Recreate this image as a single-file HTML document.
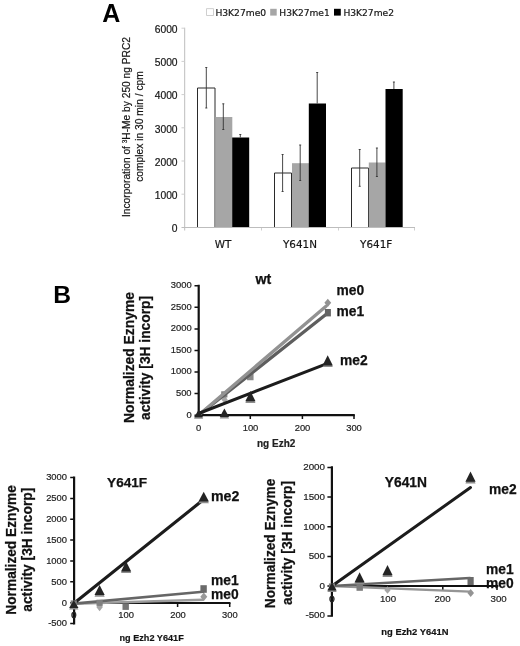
<!DOCTYPE html>
<html lang="en">
<head>
<meta charset="utf-8">
<title>Figure: H3K27 methylation by EZH2 wt, Y641N and Y641F</title>
<style>
html,body{margin:0;padding:0;background:#fff;}
body{width:520px;height:646px;overflow:hidden;}
svg{display:block;filter:blur(0.35px);}
.a{font-family:"Liberation Sans",Arial,Helvetica,sans-serif;}
.v{font-family:"DejaVu Sans","Liberation Sans",Verdana,sans-serif;}
.b{font-weight:bold;}
.k{stroke:#111;stroke-width:0.25;}
.k2{stroke:#222;stroke-width:0.2;}
</style>
</head>
<body>
<svg width="520" height="646" viewBox="0 0 520 646">
<rect width="520" height="646" fill="#fff"/>

<!-- ================= PANEL A ================= -->
<g id="panelA">
<text class="a b" x="102.2" y="22.4" font-size="25" fill="#000">A</text>

<!-- legend -->
<g class="v k2" font-size="9" fill="#111">
<rect x="206.6" y="8.7" width="6.8" height="6.8" fill="#fff" stroke="#c4c4c4" stroke-width="0.8"/>
<text x="215.4" y="15.9" textLength="50.8" lengthAdjust="spacingAndGlyphs">H3K27me0</text>
<rect x="270.2" y="8.8" width="6.5" height="6.8" fill="#a6a6a6" stroke="none"/>
<text x="279.3" y="15.9" textLength="50.4" lengthAdjust="spacingAndGlyphs">H3K27me1</text>
<rect x="334" y="8.8" width="6.8" height="6.8" fill="#000" stroke="none"/>
<text x="343.4" y="15.9" textLength="50.6" lengthAdjust="spacingAndGlyphs">H3K27me2</text>
</g>

<!-- axes -->
<g stroke="#bdbdbd" stroke-width="1" fill="none">
<line x1="184.7" y1="27.7" x2="184.7" y2="230.5"/>
<line x1="181.5" y1="227.5" x2="415" y2="227.5"/>
</g>
<g stroke="#cfcfcf" stroke-width="1" fill="none">
<line x1="181.5" y1="28.2" x2="184.5" y2="28.2"/>
<line x1="181.5" y1="61.4" x2="184.5" y2="61.4"/>
<line x1="181.5" y1="94.6" x2="184.5" y2="94.6"/>
<line x1="181.5" y1="127.8" x2="184.5" y2="127.8"/>
<line x1="181.5" y1="161.0" x2="184.5" y2="161.0"/>
<line x1="181.5" y1="194.2" x2="184.5" y2="194.2"/>
<line x1="261.5" y1="227.5" x2="261.5" y2="230.5"/>
<line x1="338.5" y1="227.5" x2="338.5" y2="230.5"/>
<line x1="414.5" y1="227.5" x2="414.5" y2="230.5"/>
</g>

<!-- y tick labels -->
<g class="a k2" font-size="10.3" fill="#111" text-anchor="end">
<text x="177.6" y="32.9">6000</text>
<text x="177.6" y="66.1">5000</text>
<text x="177.6" y="99.3">4000</text>
<text x="177.6" y="132.5">3000</text>
<text x="177.6" y="165.8">2000</text>
<text x="177.6" y="199.0">1000</text>
<text x="177.6" y="232.2">0</text>
</g>

<!-- y axis title -->
<g class="a k2" font-size="10.3" fill="#111" text-anchor="middle">
<text transform="translate(130.1,127) rotate(-90)" textLength="180" lengthAdjust="spacingAndGlyphs">Incorporation of <tspan font-size="6.5" dy="-3.5">3</tspan><tspan dy="3.5">H-Me by 250 ng PRC2</tspan></text>
<text transform="translate(143,126.5) rotate(-90)" textLength="110.5" lengthAdjust="spacingAndGlyphs">complex in 30 min / cpm</text>
</g>

<!-- bars -->
<g fill="#fff" stroke="none">
<rect x="197.5" y="88" width="17.5" height="139.5"/>
<rect x="274.5" y="173" width="17" height="54.5"/>
<rect x="351.5" y="168" width="17" height="59.5"/>
</g>
<g stroke="#2a2a2a" stroke-width="1" fill="none">
<path d="M197.5 227.5V88H215V227.5"/>
<path d="M274.5 227.5V173H291.5V227.5"/>
<path d="M351.5 227.5V168H368.5V227.5"/>
</g>
<g fill="#a6a6a6">
<rect x="215.5" y="117" width="16.8" height="110.5"/>
<rect x="292" y="163.2" width="17" height="64.3"/>
<rect x="368.8" y="162.5" width="16.8" height="65"/>
</g>
<g fill="#000">
<rect x="232.2" y="137.5" width="17" height="90"/>
<rect x="308.8" y="103.5" width="17.2" height="124"/>
<rect x="385.5" y="89" width="17.2" height="138.5"/>
</g>
<line x1="184.5" y1="227.5" x2="415" y2="227.5" stroke="#bdbdbd" stroke-width="1"/>

<!-- error bars -->
<g stroke="#333" stroke-width="0.9" fill="none">
<path d="M206.3 67.5V108M205.3 67.5h2M205.3 108h2"/>
<path d="M223.3 103.8V129.5M222.3 103.8h2M222.3 129.5h2"/>
<path d="M240.3 134.5V137.5M239.3 134.5h2"/>
<path d="M282.6 154.5V191.5M281.6 154.5h2M281.6 191.5h2"/>
<path d="M300.2 145V180.5M299.2 145h2M299.2 180.5h2"/>
<path d="M317.2 72.5V103.5M316.2 72.5h2"/>
<path d="M359.7 149.5V186.3M358.7 149.5h2M358.7 186.3h2"/>
<path d="M376.9 148V176.5M375.9 148h2M375.9 176.5h2"/>
<path d="M393.9 82V89M392.9 82h2"/>
</g>

<!-- category labels -->
<g class="v k2" font-size="10.4" fill="#111" text-anchor="middle">
<text x="223" y="247.6">WT</text>
<text x="300" y="247.6">Y641N</text>
<text x="376.2" y="247.6">Y641F</text>
</g>
</g>

<!-- ================= PANEL B ================= -->
<g id="panelB">
<text class="a b" x="53.2" y="302.7" font-size="24.6" fill="#000">B</text>
</g>

<!-- ---------- wt plot ---------- -->
<g id="plot-wt">
<text class="a b k" font-size="14.2" fill="#111" text-anchor="middle" x="263.3" y="283.7">wt</text>
<g class="a b k" font-size="13.8" fill="#111" text-anchor="middle">
<text transform="translate(133.8,357.5) rotate(-90)" textLength="131" lengthAdjust="spacingAndGlyphs">Normalized Eznyme</text>
<text transform="translate(150.4,358) rotate(-90)" textLength="124" lengthAdjust="spacingAndGlyphs">activity [3H incorp]</text>
</g>
<g stroke="#111" stroke-width="2.2" fill="none">
<path d="M198.7 284.8V416.3M197.6 415.2H354.8"/>
</g>
<g stroke="#111" stroke-width="1.5" fill="none">
<path d="M194.5 285.8h3.5M194.5 307.3h3.5M194.5 328.9h3.5M194.5 350.5h3.5M194.5 372h3.5M194.5 393.6h3.5M194.5 415.2h3.5"/>
<path d="M250.3 415v4M302.4 415v4M354 415v4"/>
</g>
<g class="a k2" font-size="9.4" fill="#222" text-anchor="end">
<text x="191.6" y="288.2">3000</text>
<text x="191.6" y="309.8">2500</text>
<text x="191.6" y="331.3">2000</text>
<text x="191.6" y="352.9">1500</text>
<text x="191.6" y="374.4">1000</text>
<text x="191.6" y="396.0">500</text>
<text x="191.6" y="417.6">0</text>
</g>
<g class="a k2" font-size="9.4" fill="#222" text-anchor="middle">
<text x="198.5" y="431.3">0</text>
<text x="250.5" y="431.3">100</text>
<text x="302.5" y="431.3">200</text>
<text x="354" y="431.3">300</text>
</g>
<g>
<path d="M224.5 395.7l3.2 3.8-3.2 3.8-3.2-3.8z" fill="#a6a6a6"/>
<rect x="221.20" y="391.30" width="6.2" height="6.2" fill="#808080"/>
<rect x="247.05" y="373.75" width="6.5" height="6.5" fill="#8a8a8a"/>
</g>
<g fill="none" stroke-linecap="round">
<line x1="198.5" y1="415.2" x2="326.5" y2="314" stroke="#5e5e5e" stroke-width="3.3"/>
<line x1="198.5" y1="415.2" x2="326" y2="306.2" stroke="#929292" stroke-width="3.3"/>
<line x1="198.5" y1="413.5" x2="327" y2="363.6" stroke="#1c1c1c" stroke-width="3"/>
</g>
<g>
<path d="M327.8 298.7l3.4 4.1-3.4 4.1-3.4-4.1z" fill="#929292"/>
<rect x="324.9" y="309" width="6" height="7.4" fill="#646464"/>
<path d="M198.6 411.3l4.6 7.4h-9.2z" fill="#8e8e8e"/><path d="M198.6 409.90000000000003l4.6 7.4h-9.2z" fill="#242424"/>
<path d="M224.4 410.1l4.7 8.4h-9.4z" fill="#8e8e8e"/><path d="M224.4 408.6l4.7 8.4h-9.4z" fill="#242424"/>
<path d="M250.4 392.7l5.1 10.2h-10.2z" fill="#8e8e8e"/><path d="M250.4 391.0l5.1 10.2h-10.2z" fill="#242424"/>
<path d="M327.7 356.90000000000003l5.1 10.2h-10.2z" fill="#8e8e8e"/><path d="M327.7 355.20000000000005l5.1 10.2h-10.2z" fill="#242424"/>
</g>
<g class="a b k" font-size="13.8" fill="#111">
<text x="336.5" y="295">me0</text>
<text x="336.5" y="316">me1</text>
<text x="340" y="364.6">me2</text>
</g>
<text class="a b k2" font-size="10" fill="#222" x="257" y="447.2" textLength="38.4" lengthAdjust="spacingAndGlyphs">ng Ezh2</text>
</g>

<!-- ---------- Y641F plot ---------- -->
<g id="plot-y641f">
<text class="a b k" font-size="13.6" fill="#111" text-anchor="middle" x="127.1" y="487">Y641F</text>
<g class="a b k" font-size="13.8" fill="#111" text-anchor="middle">
<text transform="translate(16,549.9) rotate(-90)" textLength="129.6" lengthAdjust="spacingAndGlyphs">Normalized Eznyme</text>
<text transform="translate(32.3,549.7) rotate(-90)" textLength="124" lengthAdjust="spacingAndGlyphs">activity [3H incorp]</text>
</g>
<g stroke="#111" stroke-width="2.2" fill="none">
<path d="M74.1 476.6V624.6M73 603H230.5"/>
</g>
<g stroke="#111" stroke-width="1.5" fill="none">
<path d="M70.2 477.6h3.5M70.2 498.4h3.5M70.2 519.3h3.5M70.2 540.1h3.5M70.2 561h3.5M70.2 581.8h3.5M70.2 602.7h3.5M70.2 623.6h3.5"/>
<path d="M125.7 603v4M177.6 603v4M229.7 603v4"/>
</g>
<g class="a k2" font-size="9.4" fill="#222" text-anchor="end">
<text x="67" y="480.3">3000</text>
<text x="67" y="501.1">2500</text>
<text x="67" y="522.0">2000</text>
<text x="67" y="542.8">1500</text>
<text x="67" y="563.7">1000</text>
<text x="67" y="584.6">500</text>
<text x="67" y="605.5">0</text>
<text x="67" y="626.4">-500</text>
</g>
<g class="a k2" font-size="9.4" fill="#222" text-anchor="middle">
<text x="73.9" y="618.4" stroke="#222" stroke-width="0.5">0</text>
<text x="126.1" y="618.4">100</text>
<text x="178" y="618.4">200</text>
<text x="229.8" y="618.4">300</text>
</g>
<g fill="none" stroke-linecap="round">
<line x1="74" y1="603.8" x2="203" y2="599.8" stroke="#9c9c9c" stroke-width="2.6"/>
<line x1="74" y1="603.6" x2="203" y2="591.8" stroke="#666" stroke-width="2.6"/>
<line x1="74" y1="603.2" x2="203.3" y2="499.8" stroke="#1c1c1c" stroke-width="3.1"/>
</g>
<g>
<path d="M99.6 602.7l3.3 4.3-3.3 4.3-3.3-4.3z" fill="#a6a6a6"/>
<path d="M203.8 592.5999999999999l3.5 4.2-3.5 4.2-3.5-4.2z" fill="#9a9a9a"/>
<rect x="96.50" y="599.70" width="6.2" height="6.2" fill="#808080"/>
<rect x="122.50" y="603.50" width="6.4" height="6.4" fill="#767676"/>
<rect x="200.4" y="585.2" width="6.4" height="7.6" fill="#6a6a6a"/>
<rect x="70.70" y="600.40" width="6.2" height="6.2" fill="#808080"/>
<path d="M73.8 601.7l4.7 7.8h-9.4z" fill="#8e8e8e"/><path d="M73.8 600.2l4.7 7.8h-9.4z" fill="#242424"/>
<path d="M99.6 586.6l5.1 10.2h-10.2z" fill="#8e8e8e"/><path d="M99.6 584.9l5.1 10.2h-10.2z" fill="#242424"/>
<path d="M126.1 562.9000000000001l5.1 10.2h-10.2z" fill="#8e8e8e"/><path d="M126.1 561.2l5.1 10.2h-10.2z" fill="#242424"/>
<path d="M203.7 493.40000000000003l5.2 9.8h-10.4z" fill="#8e8e8e"/><path d="M203.7 491.8l5.2 9.8h-10.4z" fill="#242424"/>
</g>
<g class="a b k" font-size="13.8" fill="#111">
<text x="211" y="501.4" font-size="14.2">me2</text>
<text x="211" y="584.9">me1</text>
<text x="211" y="598.8">me0</text>
</g>
<text class="a b k2" font-size="9.4" fill="#111" x="119.5" y="640.5" textLength="64.2" lengthAdjust="spacingAndGlyphs">ng Ezh2 Y641F</text>
</g>

<!-- ---------- Y641N plot ---------- -->
<g id="plot-y641n">
<text class="a b k" font-size="13.8" fill="#111" text-anchor="middle" x="405.9" y="487.4">Y641N</text>
<g class="a b k" font-size="13.8" fill="#111" text-anchor="middle">
<text transform="translate(274.8,543.4) rotate(-90)" textLength="129.6" lengthAdjust="spacingAndGlyphs">Normalized Eznyme</text>
<text transform="translate(292,543) rotate(-90)" textLength="124" lengthAdjust="spacingAndGlyphs">activity [3H incorp]</text>
</g>
<g stroke="#111" stroke-width="2.2" fill="none">
<path d="M331.9 466.3V616.8M330.8 586H498.4"/>
</g>
<g stroke="#111" stroke-width="1.5" fill="none">
<path d="M327.4 467.4h4M327.4 497.1h4M327.4 526.8h4M327.4 556.5h4M327.4 586h4M327.4 615.9h4"/>
<path d="M387.8 586v4M442.8 586v4M497 586v4"/>
</g>
<g class="a k2" font-size="9.8" fill="#222" text-anchor="end">
<text x="325" y="470.1">2000</text>
<text x="325" y="499.8">1500</text>
<text x="325" y="529.5">1000</text>
<text x="325" y="559.2">500</text>
<text x="325" y="588.5">0</text>
<text x="325" y="618.3">-500</text>
</g>
<g class="a k2" font-size="9.7" fill="#222" text-anchor="middle">
<text x="332" y="601.6" stroke="#222" stroke-width="0.5">0</text>
<text x="388" y="601.5">100</text>
<text x="442.5" y="601.5">200</text>
<text x="498.6" y="601.7">300</text>
</g>
<g fill="none" stroke-linecap="round">
<line x1="332" y1="586" x2="470" y2="591.7" stroke="#959595" stroke-width="2.3"/>
<line x1="332" y1="586" x2="470" y2="578" stroke="#666" stroke-width="2.3"/>
<line x1="332" y1="586" x2="470.5" y2="487.5" stroke="#1c1c1c" stroke-width="3"/>
</g>
<g>
<path d="M387.5 586.2l3.2 3.8-3.2 3.8-3.2-3.8z" fill="#a6a6a6"/>
<path d="M470.7 589.1l3.3 4-3.3 4-3.3-4z" fill="#949494"/>
<rect x="356.50" y="584.40" width="6.4" height="6.4" fill="#7c7c7c"/>
<rect x="467.5" y="577" width="6.2" height="8" fill="#6a6a6a"/>
<rect x="328.90" y="583.40" width="6.2" height="6.2" fill="#808080"/>
<path d="M332 583.9l4.7 8h-9.4z" fill="#8e8e8e"/><path d="M332 582.4l4.7 8h-9.4z" fill="#242424"/>
<path d="M359.6 574.0000000000001l5.1 10.2h-10.2z" fill="#8e8e8e"/><path d="M359.6 572.3000000000001l5.1 10.2h-10.2z" fill="#242424"/>
<path d="M387.5 566.7l5.1 10.2h-10.2z" fill="#8e8e8e"/><path d="M387.5 565.0l5.1 10.2h-10.2z" fill="#242424"/>
<path d="M470.5 473.3l5.1 10.2h-10.2z" fill="#8e8e8e"/><path d="M470.5 471.6l5.1 10.2h-10.2z" fill="#242424"/>
</g>
<g class="a b k" font-size="13.8" fill="#111">
<text x="489" y="494.4">me2</text>
<text x="486" y="573.6">me1</text>
<text x="486" y="587.9">me0</text>
</g>
<text class="a b k2" font-size="9.5" fill="#111" x="381.3" y="634.7" textLength="67.2" lengthAdjust="spacingAndGlyphs">ng Ezh2 Y641N</text>
</g>
</svg>
</body>
</html>
